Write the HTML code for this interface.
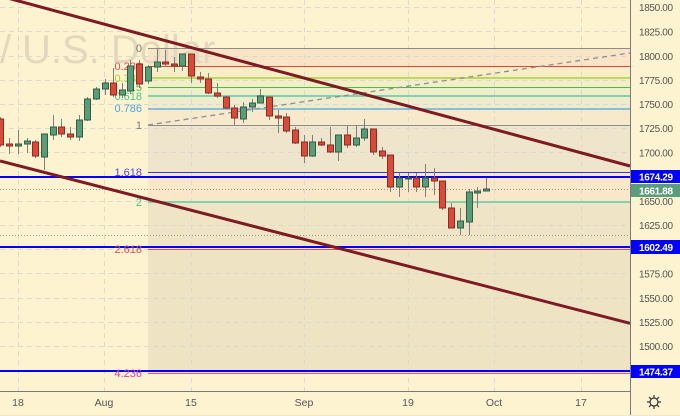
<!DOCTYPE html>
<html><head><meta charset="utf-8"><style>
html,body{margin:0;padding:0;background:#fdf3d1;}
svg{display:block;font-family:"Liberation Sans",sans-serif;}
.g{fill:#5a9b7a;stroke:#2f5e45;stroke-width:1}
.r{fill:#d84a3a;stroke:#8e2a1f;stroke-width:1}
</style></head><body>
<svg width="680" height="416" viewBox="0 0 680 416" xmlns="http://www.w3.org/2000/svg">
<rect width="680" height="416" fill="#fdf3d1"/>
<!-- fib fills -->
<rect x="148" y="48" width="482" height="18" fill="#fae4c6"/>
<rect x="148" y="66" width="482" height="12" fill="#f8eec6"/>
<rect x="148" y="78" width="482" height="9" fill="#f1eec8"/>
<rect x="148" y="87" width="482" height="9" fill="#eeedcc"/>
<rect x="148" y="96" width="482" height="13" fill="#eeebcf"/>
<rect x="148" y="109" width="482" height="16" fill="#f6e9cc"/>
<rect x="148" y="125" width="482" height="47" fill="#efe5cc"/>
<rect x="148" y="172" width="482" height="30" fill="#fae6c9"/>
<rect x="148" y="202" width="482" height="48" fill="#efe5c6"/>
<rect x="148" y="250" width="482" height="124" fill="#eee4c4"/>
<!-- watermark -->
<text x="0" y="63" font-size="40" fill="#e3d8bc">/</text>
<text x="22" y="63" font-size="40" fill="#e3d8bc">U.S. Dollar</text>
<!-- grid -->
<g stroke="#dcd9cf" stroke-width="1" stroke-dasharray="5,4">
<path d="M0 7.5H630M0 31.5H630M0 56.5H630M0 80.5H630M0 104.5H630M0 128.5H630M0 152.5H630M0 177.5H630M0 201.5H630M0 225.5H630M0 249.5H630M0 273.5H630M0 298.5H630M0 322.5H630M0 346.5H630M0 370.5H630"/>
<path d="M18.5 0V391M104.5 0V391M191.5 0V391M304.5 0V391M408.5 0V391M494.5 0V391M581.5 0V391"/>
</g>
<!-- dotted lines -->
<g stroke="#9a9a90" stroke-width="1" stroke-dasharray="1,2">
<path d="M0 189.5H630M0 235.5H630"/>
</g>
<!-- fib lines -->
<g fill="none">
<path d="M148 48.5H630" stroke="#8c8c8c"/>
<path d="M148 66.5H630" stroke="#e8413c"/>
<path d="M148 78H630" stroke="#bcd85e" stroke-width="2"/>
<path d="M148 87.5H630" stroke="#4dbb3f"/>
<path d="M148 96H630" stroke="#7ed3a8" stroke-width="2"/>
<path d="M148 109H630" stroke="#6bb0d6" stroke-width="1.5"/>
<path d="M148 125.5H630" stroke="#8c8c8c"/>
<path d="M148 172.5H630" stroke="#3a3ad8"/>
<path d="M148 202H630" stroke="#7ed3a8" stroke-width="2"/>
<path d="M148 249.5H630" stroke="#e05050"/>
<path d="M148 373.5H630" stroke="#d84fb8"/>
</g>
<!-- dashed trend -->
<path d="M148 125L630 53" stroke="#8f8f8f" stroke-width="1.3" stroke-dasharray="5,4" fill="none"/>
<!-- blue horizontal lines -->
<g stroke="#0000ff" stroke-width="2">
<path d="M0 177H630M0 247H630M0 371H630"/>
</g>
<!-- fib labels -->
<g font-size="11" text-anchor="end">
<text x="142" y="52" fill="#7a7a7a">0</text>
<text x="142" y="70" fill="#e74c4c">0.236</text>
<text x="142" y="82" fill="#a8cc2c">0.382</text>
<text x="142" y="91" fill="#4cba3c">0.5</text>
<text x="142" y="100" fill="#3ec98a">0.618</text>
<text x="142" y="112" fill="#49a6dd">0.786</text>
<text x="142" y="129" fill="#7a7a7a">1</text>
<text x="142" y="176" fill="#4f4fd6">1.618</text>
<text x="142" y="206" fill="#3ec98a">2</text>
<text x="142" y="253" fill="#e05050">2.618</text>
<text x="142" y="377" fill="#d63fb8">4.236</text>
</g>
<!-- candles -->
<g stroke="#7f7f7f" stroke-width="1" fill="none">
<path d="M0.5 117V147M9.5 138V154M18.5 130V154M27.5 138V153M35.5 140V158M44.5 134V170M53.5 115V140M61.5 119V137M70.5 127V140M79.5 115V141M87.5 97V121M96.5 87V100M105.5 79V95M113.5 68V97M122.5 83V98M130.5 60V94M139.5 60V88M148.5 65V84M157.5 48V72M165.5 50V67M174.5 57V72M182.5 54V71M191.5 54V83M200.5 72V83M208.5 73V94M217.5 83V98M226.5 96V109M234.5 105V125M243.5 102V123M252.5 99V112M260.5 89V103M269.5 97V120M278.5 110V133M286.5 113V133M295.5 127V144M304.5 135V163M312.5 135V157M321.5 138V146M330.5 127V153M338.5 135V161M347.5 126V148M356.5 125V147M364.5 119V141M373.5 129V155M382.5 147V159M390.5 155V192M399.5 173V197M408.5 173V192M416.5 173V192M425.5 164V197M434.5 168V195M442.5 181V210M451.5 203V228M460.5 208V235M469.5 189V235M477.5 187V208M486.5 178V191"/>
</g>
<rect class="r" x="-2.5" y="119" width="6" height="26"/>
<rect class="r" x="6.5" y="144" width="6" height="2"/>
<rect class="g" x="15.5" y="144" width="6" height="2"/>
<rect class="g" x="24.5" y="141" width="6" height="3"/>
<rect class="r" x="32.5" y="142" width="6" height="14"/>
<rect class="g" x="41.5" y="134" width="6" height="23"/>
<rect class="g" x="50.5" y="127" width="6" height="8"/>
<rect class="r" x="58.5" y="127" width="6" height="7"/>
<rect class="r" x="67.5" y="134" width="6" height="3"/>
<rect class="g" x="76.5" y="120" width="6" height="17"/>
<rect class="g" x="84.5" y="99" width="6" height="21"/>
<rect class="g" x="93.5" y="89" width="6" height="10"/>
<rect class="g" x="102.5" y="83" width="6" height="6"/>
<rect class="r" x="110.5" y="83" width="6" height="12"/>
<rect class="g" x="119.5" y="90" width="6" height="5"/>
<rect class="g" x="127.5" y="66" width="6" height="25"/>
<rect class="r" x="136.5" y="64" width="6" height="20"/>
<rect class="g" x="145.5" y="67" width="6" height="14"/>
<rect class="g" x="154.5" y="62" width="6" height="5"/>
<rect class="r" x="162.5" y="62" width="6" height="2"/>
<rect class="r" x="171.5" y="64" width="6" height="2"/>
<rect class="g" x="179.5" y="54" width="6" height="12"/>
<rect class="r" x="188.5" y="54" width="6" height="22"/>
<rect class="r" x="197.5" y="77" width="6" height="2"/>
<rect class="r" x="205.5" y="79" width="6" height="14"/>
<rect class="r" x="214.5" y="93" width="6" height="3"/>
<rect class="r" x="223.5" y="97" width="6" height="11"/>
<rect class="r" x="231.5" y="108" width="6" height="10"/>
<rect class="g" x="240.5" y="107" width="6" height="12"/>
<rect class="g" x="249.5" y="103" width="6" height="4"/>
<rect class="g" x="257.5" y="96" width="6" height="7"/>
<rect class="r" x="266.5" y="97" width="6" height="19"/>
<rect class="r" x="275.5" y="116" width="6" height="2"/>
<rect class="r" x="283.5" y="117" width="6" height="14"/>
<rect class="r" x="292.5" y="130" width="6" height="13"/>
<rect class="r" x="301.5" y="142" width="6" height="14"/>
<rect class="g" x="309.5" y="142" width="6" height="14"/>
<rect class="r" x="318.5" y="142" width="6" height="3"/>
<rect class="r" x="327.5" y="145" width="6" height="7"/>
<rect class="g" x="335.5" y="135" width="6" height="17"/>
<rect class="r" x="344.5" y="135" width="6" height="10"/>
<rect class="g" x="353.5" y="138" width="6" height="7"/>
<rect class="g" x="361.5" y="129" width="6" height="9"/>
<rect class="r" x="370.5" y="129" width="6" height="23"/>
<rect class="r" x="379.5" y="151" width="6" height="5"/>
<rect class="r" x="387.5" y="155" width="6" height="32"/>
<rect class="g" x="396.5" y="178" width="6" height="9"/>
<rect class="g" x="405.5" y="178" width="6" height="1"/>
<rect class="r" x="413.5" y="178" width="6" height="9"/>
<rect class="g" x="422.5" y="178" width="6" height="9"/>
<rect class="r" x="431.5" y="178" width="6" height="3"/>
<rect class="r" x="439.5" y="181" width="6" height="27"/>
<rect class="r" x="448.5" y="208" width="6" height="20"/>
<rect class="g" x="457.5" y="221" width="6" height="7"/>
<rect class="g" x="466.5" y="192" width="6" height="30"/>
<rect class="g" x="474.5" y="191" width="6" height="2"/>
<rect class="g" x="483.5" y="189" width="6" height="2"/>
<!-- channel lines -->
<g stroke="#7e1a22" stroke-width="3" fill="none" stroke-linecap="butt">
<path d="M0 -4L630 166"/>
<path d="M0 161L630 323.3"/>
</g>
<!-- axes area -->
<rect x="630" y="0" width="50" height="416" fill="#fdf3d1"/>
<rect x="0" y="391" width="630" height="25" fill="#fdf3d1"/>
<path d="M630.5 0V416" stroke="#7a7a7a" stroke-width="1"/>
<path d="M0 391.5H630" stroke="#7a7a7a" stroke-width="1"/>
<!-- price labels -->
<g font-size="10" fill="#555" >
<text x="639" y="11" textLength="34">1850.00</text>
<text x="639" y="35.5" textLength="34">1825.00</text>
<text x="639" y="60" textLength="34">1800.00</text>
<text x="639" y="84" textLength="34">1775.00</text>
<text x="639" y="108" textLength="34">1750.00</text>
<text x="639" y="132" textLength="34">1725.00</text>
<text x="639" y="156.5" textLength="34">1700.00</text>
<text x="639" y="205" textLength="34">1650.00</text>
<text x="639" y="229" textLength="34">1625.00</text>
<text x="639" y="277.5" textLength="34">1575.00</text>
<text x="639" y="302" textLength="34">1550.00</text>
<text x="639" y="326" textLength="34">1525.00</text>
<text x="639" y="350" textLength="34">1500.00</text>
</g>
<!-- price tags -->
<rect x="631" y="170" width="49" height="13" fill="#0000ff"/>
<rect x="631" y="184" width="49" height="13" fill="#5b9c7c"/>
<rect x="631" y="240" width="49" height="14" fill="#0000ff"/>
<rect x="631" y="365" width="49" height="13" fill="#0000ff"/>
<g font-size="10" fill="#ffffff" font-weight="bold">
<text x="639" y="180.5" textLength="34">1674.29</text>
<text x="639" y="194.5" textLength="34">1661.88</text>
<text x="639" y="251" textLength="34">1602.49</text>
<text x="639" y="375.5" textLength="34">1474.37</text>
</g>
<!-- time labels -->
<g font-size="10.5" fill="#555" text-anchor="middle">
<text x="18" y="406">18</text>
<text x="104" y="406">Aug</text>
<text x="191" y="406">15</text>
<text x="304" y="406">Sep</text>
<text x="408" y="406">19</text>
<text x="494" y="406">Oct</text>
<text x="581" y="406">17</text>
</g>
<!-- gear -->
<g transform="translate(654,402)" stroke="#333" fill="none" stroke-width="1.2">
<circle r="4"/>
<path d="M0 -7V-4.5M0 4.5V7M-7 0H-4.5M4.5 0H7M-5 -5L-3.2 -3.2M3.2 3.2L5 5M-5 5L-3.2 3.2M3.2 -3.2L5 -5"/>
</g>
<path d="M0 415.5H680" stroke="#efe6cc" stroke-width="1"/>
</svg>
</body></html>
